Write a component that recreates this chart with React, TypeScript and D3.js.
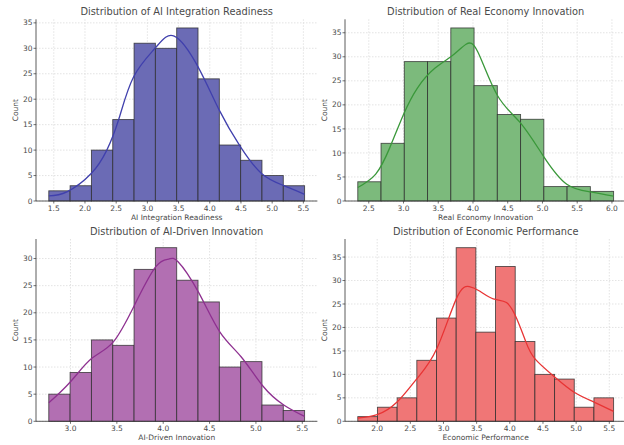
import React from 'react';
import * as d3 from 'd3';

// histogram counts
const aiReadinessCounts = [2, 3, 10, 16, 31, 30, 34, 24, 11, 8, 5, 3];
const realEconomyCounts = [4, 12, 29, 29, 36, 24, 18, 17, 3, 3, 2];
const aiDrivenCounts = [5, 9, 15, 14, 28, 32, 26, 22, 10, 11, 3, 2];
const econPerfCounts = [1, 3, 5, 13, 22, 37, 19, 33, 17, 10, 9, 3, 5];

// first and last bin edge
const aiReadinessRange = [1.42, 5.52];
const realEconomyRange = [2.342, 6.024];
const aiDrivenRange = [2.766, 5.525];
const econPerfRange = [1.708, 5.565];

// kde curves (value, count)
const aiReadinessKdeX = [1.42, 1.71, 2.1, 2.35, 2.54, 2.78, 3.13, 3.43, 3.81, 4.15, 4.49, 4.83, 5.17, 5.52];
const aiReadinessKdeY = [1.0, 1.8, 5.4, 10.0, 16.0, 24.4, 30.1, 32.4, 26.4, 17.9, 10.7, 5.4, 3.1, 1.3];
const realEconomyKdeX = [2.342, 2.6, 2.8, 3.0, 3.2, 3.45, 3.7, 3.9, 4.07, 4.35, 4.68, 5.02, 5.35, 5.69, 6.024];
const realEconomyKdeY = [2.8, 5.6, 11.0, 18.0, 23.5, 27.6, 30.2, 32.6, 31.0, 22.0, 16.3, 9.2, 3.5, 1.9, 1.0];
const aiDrivenKdeX = [2.766, 3.0, 3.23, 3.46, 3.69, 3.92, 4.06, 4.16, 4.38, 4.61, 4.84, 5.07, 5.3, 5.525];
const aiDrivenKdeY = [3.4, 7.3, 11.6, 14.6, 21.4, 28.5, 29.9, 29.4, 23.8, 16.5, 11.9, 6.6, 3.0, 0.9];
const econPerfKdeX = [1.708, 2.0, 2.3, 2.6, 2.9, 3.2, 3.39, 3.55, 3.75, 3.95, 4.1, 4.24, 4.38, 4.68, 4.97, 5.27, 5.565];
const econPerfKdeY = [0.7, 1.4, 4.1, 9.1, 15.5, 26.3, 28.7, 27.7, 26.1, 25.3, 22.0, 17.0, 13.3, 9.4, 6.2, 4.1, 2.1];

const titles = [
  'Distribution of AI Integration Readiness',
  'Distribution of Real Economy Innovation',
  'Distribution of AI-Driven Innovation',
  'Distribution of Economic Performance',
];
const xLabels = ['AI Integration Readiness', 'Real Economy Innovation', 'AI-Driven Innovation', 'Economic Performance'];
const xTickValues = [
  [1.5, 2.0, 2.5, 3.0, 3.5, 4.0, 4.5, 5.0, 5.5],
  [2.5, 3.0, 3.5, 4.0, 4.5, 5.0, 5.5, 6.0],
  [3.0, 3.5, 4.0, 4.5, 5.0, 5.5],
  [2.0, 2.5, 3.0, 3.5, 4.0, 4.5, 5.0, 5.5],
];
const yTickValues = [
  [0, 5, 10, 15, 20, 25, 30, 35],
  [0, 5, 10, 15, 20, 25, 30, 35],
  [0, 5, 10, 15, 20, 25, 30],
  [0, 5, 10, 15, 20, 25, 30, 35],
];

const fills = ['#6b6bb5', '#7cba7c', '#b26fb2', '#f07676'];
const lines = ['#4040ad', '#3a983a', '#8e3090', '#e83434'];

const counts = [aiReadinessCounts, realEconomyCounts, aiDrivenCounts, econPerfCounts];
const ranges = [aiReadinessRange, realEconomyRange, aiDrivenRange, econPerfRange];
const kdeXs = [aiReadinessKdeX, realEconomyKdeX, aiDrivenKdeX, econPerfKdeX];
const kdeYs = [aiReadinessKdeY, realEconomyKdeY, aiDrivenKdeY, econPerfKdeY];

const W = 624;
const H = 445;
const colLeft = [36, 345];
const axisW = 281.4;
const rowTop = [19.3, 239];
const rowBottom = [201, 421.3];
const font = 'DejaVu Sans, sans-serif';

const Panel = ({ i }: { i: number }) => {
  const col = i % 2;
  const row = Math.floor(i / 2);
  const left = colLeft[col];
  const top = rowTop[row];
  const bottom = rowBottom[row];
  const c = counts[i];
  const [lo, hi] = ranges[i];
  const pad = (hi - lo) * 0.05;
  const x = d3.scaleLinear().domain([lo - pad, hi + pad]).range([left, left + axisW]);
  const y = d3.scaleLinear().domain([0, (d3.max(c) as number) * 1.05]).range([bottom, top]);
  const edges = d3.range(c.length + 1).map((k) => lo + ((hi - lo) * k) / c.length);
  const kde = kdeXs[i].map((v, k) => [v, kdeYs[i][k]] as [number, number]);
  const line = d3
    .line<[number, number]>()
    .x((d) => x(d[0]))
    .y((d) => y(d[1]))
    .curve(d3.curveNatural);
  const fmt = d3.format('.1f');
  const right = left + axisW;
  const midX = (left + right) / 2;

  return (
    <g>
      {xTickValues[i].map((t) => (
        <line key={'gx' + t} x1={x(t)} x2={x(t)} y1={top} y2={bottom} stroke="#dcdcdc" strokeWidth={0.8} strokeDasharray="1.5,1.5" />
      ))}
      {yTickValues[i].map((t) => (
        <line key={'gy' + t} x1={left} x2={right} y1={y(t)} y2={y(t)} stroke="#dcdcdc" strokeWidth={0.8} strokeDasharray="1.5,1.5" />
      ))}
      {c.map((v, k) => (
        <rect
          key={'b' + k}
          x={x(edges[k])}
          y={y(v)}
          width={x(edges[k + 1]) - x(edges[k])}
          height={y(0) - y(v)}
          fill={fills[i]}
          stroke="#2b2b2b"
          strokeOpacity={0.8}
          strokeWidth={0.9}
        />
      ))}
      <path d={line(kde) || ''} fill="none" stroke={lines[i]} strokeWidth={1.3} />
      <line x1={left} x2={left} y1={top} y2={bottom} stroke="#333" strokeWidth={0.8} />
      <line x1={left} x2={right} y1={bottom} y2={bottom} stroke="#333" strokeWidth={0.8} />
      {yTickValues[i].map((t) => (
        <g key={'ty' + t}>
          <line x1={left - 2.5} x2={left} y1={y(t)} y2={y(t)} stroke="#333" strokeWidth={0.7} />
          <text x={left - 3.5} y={y(t)} dy="0.35em" textAnchor="end" fontSize={7.5} fill="#4a4a4a" fontFamily={font}>
            {t}
          </text>
        </g>
      ))}
      {xTickValues[i].map((t) => (
        <g key={'tx' + t}>
          <line x1={x(t)} x2={x(t)} y1={bottom} y2={bottom + 2.5} stroke="#333" strokeWidth={0.7} />
          <text x={x(t)} y={bottom + 9.5} textAnchor="middle" fontSize={7.5} fill="#4a4a4a" fontFamily={font}>
            {fmt(t)}
          </text>
        </g>
      ))}
      <text x={midX} y={bottom + 18.5} textAnchor="middle" fontSize={7.5} fill="#4a4a4a" fontFamily={font}>
        {xLabels[i]}
      </text>
      <text
        transform={`translate(${left - 18}, ${(top + bottom) / 2}) rotate(-90)`}
        textAnchor="middle"
        fontSize={7.5}
        fill="#4a4a4a"
        fontFamily={font}
      >
        Count
      </text>
      <text x={midX} y={top - 4.5} textAnchor="middle" fontSize={9.8} fill="#4a4a4a" fontFamily={font}>
        {titles[i]}
      </text>
    </g>
  );
};

export default function App() {
  return (
    <svg
      width={W}
      height={H}
      viewBox={`0 0 ${W} ${H}`}
      style={{ position: 'absolute', left: 0, top: 0, background: '#fff', display: 'block' }}
    >
      <rect width={W} height={H} fill="#fff" />
      {[0, 1, 2, 3].map((i) => (
        <Panel key={i} i={i} />
      ))}
    </svg>
  );
}
